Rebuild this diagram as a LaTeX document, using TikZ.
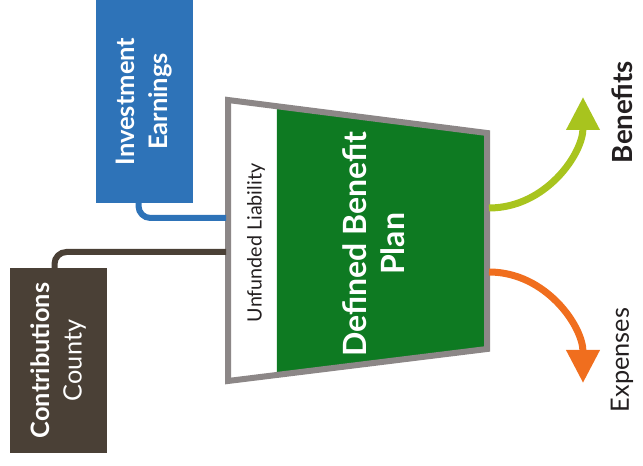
\documentclass[tikz,border=0pt]{standalone}
\usepackage{fontspec}
\setmainfont{Lato}
\usepackage{tikz}
\usetikzlibrary{arrows.meta, calc}

\definecolor{investblue}{HTML}{2E73B8}
\definecolor{countybrown}{HTML}{4A4036}
\definecolor{plangreen}{HTML}{0E7A22}
\definecolor{framegray}{HTML}{8C8787}
\definecolor{benefitgreen}{HTML}{A8C41E}
\definecolor{expenseorange}{HTML}{F06E1E}
\definecolor{labeldark}{HTML}{231F20}

\begin{document}
\begin{tikzpicture}[x=1pt, y=1pt,
    srcbox/.style={rotate=90, minimum height=97pt, inner sep=0pt, align=center, text=white},
    pipe/.style={line width=6pt, rounded corners=12pt},
    outflow/.style={line width=7pt, -{Triangle[width=32pt, length=33pt]}},
    sidelabel/.style={rotate=90, text=labeldark, inner sep=0pt}]
    \useasboundingbox (0,0) rectangle (643,466);

    % Sources
    \node[srcbox, fill=investblue, minimum width=203pt, font=\fontsize{25.5}{33}\selectfont\bfseries]
        (invest) at (144.5,364.5) {Investment\\Earnings};
    \node[srcbox, fill=countybrown, minimum width=185pt, font=\fontsize{25.3}{32}\selectfont]
        (county) at (58.5,105.5) {\bfseries Contributions\\County};

    % Plan
    \coordinate (tl) at (228,366);
    \coordinate (bl) at (228,85);
    \coordinate (tr) at (487,333);
    \coordinate (br) at (487,117);
    \coordinate (mt) at ($(tl)!0.189!(tr)$);
    \coordinate (mb) at ($(bl)!0.189!(br)$);
    \fill[white] (tl) -- (mt) -- (mb) -- (bl) -- cycle;
    \fill[plangreen] (mt) -- (tr) -- (br) -- (mb) -- cycle;
    \draw[framegray, line width=6pt, line join=miter] (tl) -- (tr) -- (br) -- (bl) -- cycle;
    \node[rotate=90, font=\fontsize{19.7}{24}\selectfont, text=labeldark] (liab) at (256,223) {Unfunded Liability};
    \node[rotate=90, align=center, text=white, font=\fontsize{32}{38}\selectfont\bfseries]
        (plan) at (374,222) {Defined Benefit\\Plan};

    % Inflows
    \coordinate (inA) at (226,248);
    \coordinate (inB) at (226,214);
    \draw[pipe, investblue] ([xshift=-6pt]invest.west) |- (inA);
    \draw[pipe, countybrown] ([xshift=-4pt]county.east) |- (inB);

    % Outflows
    \coordinate (outB) at (489,258);
    \coordinate (outE) at (489,194);
    \coordinate (tipB) at (583,369);
    \coordinate (tipE) at (583,83);
    \draw[outflow, benefitgreen] (outB) to[out=0, in=-90] (tipB);
    \draw[outflow, expenseorange] (outE) to[out=0, in=90] (tipE);
    \node[sidelabel, font=\fontsize{27.7}{30}\selectfont\bfseries] (benefits) at (622,354) {Benefits};
    \node[sidelabel, font=\fontsize{25.3}{30}\selectfont] (expenses) at (622,106) {Expenses};

\end{tikzpicture}
\end{document}
